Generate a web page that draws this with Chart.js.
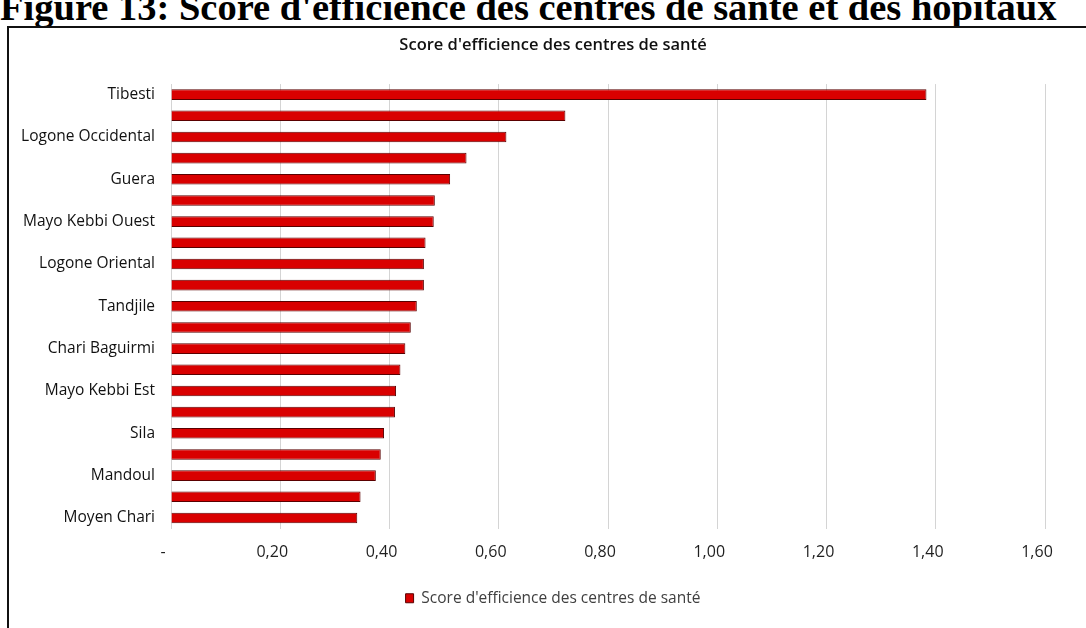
<!DOCTYPE html>
<html lang="fr">
<head>
    <meta charset="UTF-8">
    <title>Score d'efficience des centres de santé</title>
    <script src="https://cdn.jsdelivr.net/npm/chart.js"></script>
    <style>
        html, body {
            margin: 0;
            padding: 0;
            background: #fff;
            width: 1086px;
            height: 628px;
            overflow: hidden;
        }
        #heading {
            position: absolute;
            left: 0;
            top: -12px;
            font-family: 'Liberation Serif', 'DejaVu Serif', serif;
            font-weight: bold;
            font-size: 38.5px;
            line-height: 1;
            white-space: nowrap;
            color: #000;
        }
        #frame {
            position: absolute;
            left: 7px;
            top: 26px;
            width: 1100px;
            height: 620px;
            border-left: 2px solid #111;
            border-top: 2px solid #111;
        }
        #chartWrap {
            position: absolute;
            left: 10px;
            top: 29px;
        }
    </style>
</head>
<body>
    <div id="heading">Figure 13: Score d'efficience des centres de santé et des hôpitaux</div>
    <div id="frame"></div>
    <div id="chartWrap">
        <canvas id="chart" width="1086" height="599"></canvas>
    </div>

    <script>
        // Regions, top to bottom (only every other name is printed on the axis)
        const regions = [
            'Tibesti', 'Borkou', 'Logone Occidental', 'Ennedi', 'Guera',
            'Batha', 'Mayo Kebbi Ouest', 'Kanem', 'Logone Oriental', 'Lac',
            'Tandjile', 'Hadjer Lamis', 'Chari Baguirmi', 'Ouaddai', 'Mayo Kebbi Est',
            'Salamat', 'Sila', 'Wadi Fira', 'Mandoul', 'Barh El Gazel', 'Moyen Chari'
        ];
        const scores = [
            1.383, 0.722, 0.614, 0.541, 0.511,
            0.483, 0.481, 0.466, 0.463, 0.463,
            0.450, 0.439, 0.429, 0.420, 0.412,
            0.410, 0.390, 0.384, 0.375, 0.347, 0.341
        ];
        const seriesName = "Score d'efficience des centres de santé";
        const xMin = 0;
        const xMax = 1.6;
        const xStep = 0.2;

        const fontFamily = "'Open Sans', 'Noto Sans', sans-serif";

        function fmtTick(v) {
            if (Math.abs(v) < 1e-9) return '-';
            return v.toFixed(2).replace('.', ',');
        }

        const ctx = document.getElementById('chart').getContext('2d');
        new Chart(ctx, {
            type: 'bar',
            data: {
                labels: regions,
                datasets: [{
                    label: seriesName,
                    data: scores,
                    backgroundColor: '#d90000',
                    borderColor: '#5a0000',
                    borderWidth: 1,
                    barPercentage: 0.5,
                    categoryPercentage: 1
                }]
            },
            options: {
                indexAxis: 'y',
                responsive: false,
                animation: false,
                layout: {
                    padding: { left: 0, right: 0, top: 0, bottom: 12 }
                },
                plugins: {
                    title: {
                        display: true,
                        text: seriesName,
                        color: '#111',
                        font: { family: fontFamily, size: 16.5, weight: '600' },
                        padding: { top: 6, bottom: 29.25 }
                    },
                    legend: {
                        position: 'bottom',
                        labels: {
                            boxWidth: 8,
                            boxHeight: 9,
                            padding: 10,
                            color: '#404040',
                            font: { family: fontFamily, size: 15.5 }
                        }
                    },
                    tooltip: { enabled: false }
                },
                scales: {
                    x: {
                        type: 'linear',
                        min: xMin,
                        max: xMax,
                        ticks: {
                            stepSize: xStep,
                            callback: v => fmtTick(v),
                            color: '#1f1f1f',
                            font: { family: fontFamily, size: 16 },
                            padding: 14,
                            labelOffset: -8
                        },
                        grid: { color: '#d4d4d4', drawTicks: false },
                        border: { display: false },
                        afterFit: s => { s.height = 52; }
                    },
                    y: {
                        ticks: {
                            autoSkip: false,
                            callback: (v, i) => (i % 2 === 0 ? regions[i] : ''),
                            color: '#111',
                            font: { family: fontFamily, size: 15.5 },
                            padding: 16
                        },
                        grid: { display: false, drawTicks: false },
                        border: { display: true, color: '#d4d4d4' },
                        afterFit: s => { s.width = 161; }
                    },
                    // empty spacer on the right so the plot ends at 1,60 while title/legend stay centred
                    spacer: {
                        type: 'linear',
                        position: 'right',
                        ticks: { display: false },
                        grid: { display: false, drawTicks: false },
                        border: { display: false },
                        afterFit: s => { s.width = 51; }
                    }
                }
            }
        });
    </script>
</body>
</html>
